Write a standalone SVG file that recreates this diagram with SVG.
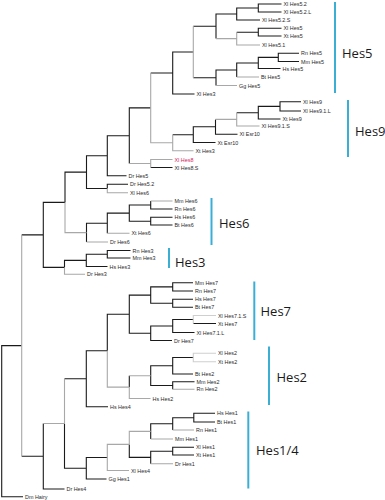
<svg xmlns="http://www.w3.org/2000/svg" width="385" height="500" viewBox="0 0 385 500">
<style>
.k{fill:none;stroke:#1a1a1a;stroke-width:1.1}
.g{fill:none;stroke:#a8a8a8;stroke-width:1.1}
.lg{fill:none;stroke:#cfcfcf;stroke-width:1.1}
.t{font-family:"Liberation Sans",Arial,sans-serif;font-size:5.4px;fill:#2a2a2a}
.red{fill:#d8245a}
.bar{stroke:#3aafd6;stroke-width:2}
.c{font-family:"Open Sans","Noto Sans",sans-serif;font-size:13px;fill:#1a1a1a}
</style>
<rect width="385" height="500" fill="#fff"/>
<g id="connectors">
<path class="k" d="M1.7 421V345.6H21.7M1.7 421V496.7H23
M21.7 234.9H43.3M21.7 456.2H43.3
M43.3 234.9V202.4H65M43.3 234.9V267.4H64.5
M65 202.4V172.1H86.5
M86.5 172.1V155.7H107.3M86.5 172.1V188.5H107.3
M107.3 155.7V135.7H129.3M107.3 155.7V175.7H126.5
M107.3 188.5V184.3H128
M129.3 135.7V107.9H150.7M129.3 135.7V163.5
M150.7 167.5H172.5
M150.7 73H172.7
M172.7 73V52H193.3M172.7 73V94H194.5
M193.3 26.3H216M193.3 77.8H216
M216 26.3V14H236.7M216 26.3V38.6
M236.7 14V8H258.3M236.7 14V20H260
M258.3 8V4H281.5M258.3 8V12H281.5
M236.7 32.2H258.3
M258.3 32.2V28.3H281.5M258.3 32.2V36H281.5
M216 77.8V70H236.7M216 77.8V85.5
M236.7 70V63H258.3M236.7 70V77
M258.3 63V57.4H278.3M258.3 63V68.5H280.5
M278.3 57.4V53.3H299M278.3 57.4V61.5H299
M172.7 134.7H193.3
M193.3 134.7V126.8H215.5M193.3 134.7V142.5H215.5
M215.5 126.8V119.4M215.5 126.8V134.2H237.5
M236.7 112.7H258.3
M258.3 112.7V106.4H280M258.3 112.7V119H280.5
M280 106.4V101.7H301M280 106.4V111H301
M86.5 232.6V223.2H107.3M86.5 232.6V242
M107.3 223.2V213.1H129.3M107.3 223.2V233.3
M129.3 213.1V205H150.7M129.3 213.1V221.2H150.7
M150.7 205V201M150.7 205V209H172.5
M150.7 221.2V217.3H172.5M150.7 221.2V225H172.5
M64.5 267.4V260.4H86.3
M86.3 260.4V254.3H107.3M86.3 260.4V266.5H107.5
M107.3 254.3V250.5H130.5M107.3 254.3V258H130.5
M43.3 456.2V423.5M43.3 456.2V489H64.5
M64.5 378.7H86.3M64.5 423.5V468.2H86.3
M86.3 378.7V350.7H107.3M86.3 378.7V406.7H108
M107.3 350.7V314.2H129.3
M129.3 314.2V295.1H150.7M129.3 314.2V333.3H150.7
M150.7 295.1V286.9H172.7M150.7 295.1V303.3H172.7
M172.7 286.9V282.7H193M172.7 286.9V291H193
M172.7 303.3V299.3H193M172.7 303.3V307.3H193
M150.7 333.3V326H172.7M150.7 333.3V340.5H172
M172.7 326V319.5H193.3M172.7 326V332.5H194.5
M193.3 323.5H216
M129.3 387.1V375.7
M150.7 375.7V365.8H172.7M150.7 375.7V385.5H172.7
M172.7 365.8V357.5H193.3M172.7 365.8V374H193
M172.7 385.5V381.7H194.5M172.7 385.5V389.3
M86.3 468.2V457.5H107.3M86.3 468.2V479H106.5
M129.3 444.4V457.4H150.7
M150.7 431.4V423.8H172.7M150.7 431.4V439
M172.7 423.8V417.7H193.8M172.7 423.8V430
M193.8 417.7V413.3H215M193.8 417.7V422H215
M150.7 457.4V451.2H172.7M150.7 457.4V463.7
M172.7 451.2V447.3H194M172.7 451.2V455H194"/>
<path class="g" d="M21.7 345.6V234.9M21.7 345.6V456.2
M65 202.4V232.6H86.5
M107.3 188.5V192.7H128
M129.3 163.5H150.7
M150.7 163.5V159.5H172.5M150.7 163.5V167.5
M150.7 107.9V73M150.7 107.9V142.7H172.7
M193.3 52V26.3M193.3 52V77.8
M216 38.6H236.7
M236.7 38.6V32.2M236.7 38.6V45H260
M216 85.5H237M236.7 77H259
M172.7 142.7V134.7M172.7 142.7V150.7H193.5
M215.5 119.4H236.7
M236.7 119.4V112.7M236.7 119.4V126H259.5
M86.5 242H108M107.3 233.3H129.5M150.7 201H172.5
M64.5 267.4V274.3H85
M43.3 423.5H64.5M64.5 423.5V378.7
M107.3 350.7V387.1H129.3
M129.3 375.7H150.7M129.3 387.1V398.5H150.5
M172.7 389.3H194.5
M107.3 457.5V444.4H129.3M107.3 457.5V470.5H129
M129.3 444.4V431.4H150.7
M150.7 439H173M172.7 430H194M150.7 463.7H173"/>
<path class="lg" d="M193.3 319.5V315.5H216M193.3 319.5V323.5
M193.3 357.5V353.3H216M193.3 357.5V361.7H216"/>
</g>
<g id="leaves" class="t">
<g id="n0"><text x="283.5" y="6">Xl Hes5.2</text></g>
<g id="n1"><text x="283.5" y="14">Xl Hes5.2.L</text></g>
<g id="n2"><text x="262" y="22">Xl Hes5.2.S</text></g>
<g id="n3"><text x="283.5" y="30.3">Xl Hes5</text></g>
<g id="n4"><text x="283.5" y="38">Xt Hes5</text></g>
<g id="n5"><text x="262" y="47">Xl Hes5.1</text></g>
<g id="n6"><text x="301" y="55.3">Rn Hes5</text></g>
<g id="n7"><text x="301" y="63.5">Mm Hes5</text></g>
<g id="n8"><text x="282.5" y="70.5">Hs Hes5</text></g>
<g id="n9"><text x="261" y="79">Bt Hes5</text></g>
<g id="n10"><text x="239" y="87.5">Gg Hes5</text></g>
<g id="n11"><text x="196.5" y="96">Xl Hes3</text></g>
<g id="n12"><text x="303" y="103.7">Xl Hes9</text></g>
<g id="n13"><text x="303" y="113">Xl Hes9.1.L</text></g>
<g id="n14"><text x="282.5" y="121">Xt Hes9</text></g>
<g id="n15"><text x="261.5" y="128">Xl Hes9.1.S</text></g>
<g id="n16"><text x="239.5" y="136.2">Xl Esr10</text></g>
<g id="n17"><text x="217.5" y="144.5">Xt Esr10</text></g>
<g id="n18"><text x="195.5" y="152.7">Xt Hes3</text></g>
<g id="n19"><text class="red" x="174.5" y="161.5">Xl Hes8</text></g>
<g id="n20"><text x="174.5" y="169.5">Xl Hes8.S</text></g>
<g id="n21"><text x="128.5" y="177.7">Dr Hes5</text></g>
<g id="n22"><text x="130" y="186.3">Dr Hes5.2</text></g>
<g id="n23"><text x="130" y="194.7">Xl Hes6</text></g>
<g id="n24"><text x="174.5" y="203">Mm Hes6</text></g>
<g id="n25"><text x="174.5" y="211">Rn Hes6</text></g>
<g id="n26"><text x="174.5" y="219.3">Hs Hes6</text></g>
<g id="n27"><text x="174.5" y="227">Bt Hes6</text></g>
<g id="n28"><text x="131.5" y="235.3">Xt Hes6</text></g>
<g id="n29"><text x="110" y="244">Dr Hes6</text></g>
<g id="n30"><text x="132.5" y="252.5">Rn Hes3</text></g>
<g id="n31"><text x="132.5" y="260">Mm Hes3</text></g>
<g id="n32"><text x="109.5" y="268.5">Hs Hes3</text></g>
<g id="n33"><text x="87" y="276.3">Dr Hes3</text></g>
<g id="n34"><text x="195" y="284.7">Mm Hes7</text></g>
<g id="n35"><text x="195" y="293">Rn Hes7</text></g>
<g id="n36"><text x="195" y="301.3">Hs Hes7</text></g>
<g id="n37"><text x="195" y="309.3">Bt Hes7</text></g>
<g id="n38"><text x="218" y="317.5">Xl Hes7.1.S</text></g>
<g id="n39"><text x="218" y="325.5">Xt Hes7</text></g>
<g id="n40"><text x="196.5" y="334.5">Xl Hes7.1.L</text></g>
<g id="n41"><text x="174" y="342.5">Dr Hes7</text></g>
<g id="n42"><text x="218" y="355.3">Xl Hes2</text></g>
<g id="n43"><text x="218" y="363.7">Xt Hes2</text></g>
<g id="n44"><text x="195" y="376">Bt Hes2</text></g>
<g id="n45"><text x="196.5" y="383.7">Mm Hes2</text></g>
<g id="n46"><text x="196.5" y="391.3">Rn Hes2</text></g>
<g id="n47"><text x="152.5" y="400.5">Hs Hes2</text></g>
<g id="n48"><text x="110" y="408.7">Hs Hes4</text></g>
<g id="n49"><text x="217" y="415.3">Hs Hes1</text></g>
<g id="n50"><text x="217" y="424">Bt Hes1</text></g>
<g id="n51"><text x="196" y="432">Rn Hes1</text></g>
<g id="n52"><text x="175" y="441">Mm Hes1</text></g>
<g id="n53"><text x="196" y="449.3">Xl Hes1</text></g>
<g id="n54"><text x="196" y="457">Xt Hes1</text></g>
<g id="n55"><text x="175" y="465.7">Dr Hes1</text></g>
<g id="n56"><text x="131" y="472.5">Xl Hes4</text></g>
<g id="n57"><text x="108.5" y="481">Gg Hes1</text></g>
<g id="n58"><text x="66.5" y="491">Dr Hes4</text></g>
<g id="n59"><text x="25" y="498.7">Dm Hairy</text></g>
</g>
<g id="clades">
<g id="hes5"><line class="bar" x1="335" y1="2" x2="335" y2="93"/><text class="c" x="342" y="58">Hes5</text></g>
<g id="hes9"><line class="bar" x1="348" y1="100" x2="348" y2="157"/><text class="c" x="355" y="136">Hes9</text></g>
<g id="hes6"><line class="bar" x1="211.5" y1="198" x2="211.5" y2="245"/><text class="c" x="219" y="228">Hes6</text></g>
<g id="hes3"><line class="bar" x1="169" y1="248" x2="169" y2="268"/><text class="c" x="175" y="267">Hes3</text></g>
<g id="hes7"><line class="bar" x1="254.3" y1="281.5" x2="254.3" y2="340"/><text class="c" x="260.5" y="316">Hes7</text></g>
<g id="hes2"><line class="bar" x1="269" y1="346.5" x2="269" y2="405"/><text class="c" x="276.5" y="382">Hes2</text></g>
<g id="hes14"><line class="bar" x1="248.3" y1="411.5" x2="248.3" y2="488.5"/><text class="c" x="256" y="455">Hes1/4</text></g>
</g>
</svg>
